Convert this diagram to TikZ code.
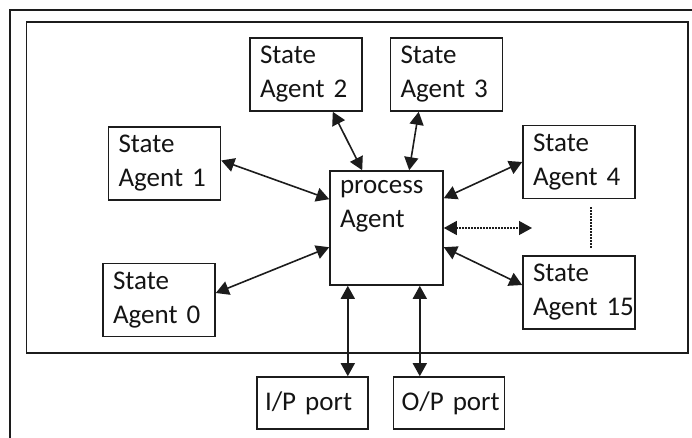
\documentclass[tikz,border=0pt]{standalone}
\usepackage{fontspec}
\setmainfont{Carlito}
\usetikzlibrary{arrows.meta}
\definecolor{linedark}{HTML}{1C1C1C}
\definecolor{textdark}{HTML}{141414}

\begin{document}
\begin{tikzpicture}[x=1pt,y=-1pt,color=linedark,text=textdark,line width=1.6pt,
    font=\fontsize{27}{34}\selectfont,
    agentbox/.style={draw,rectangle,text width=92pt,align=left,inner xsep=10pt,inner ysep=0pt,minimum height=73pt},
    portbox/.style={draw,rectangle,text width=95pt,align=left,inner xsep=8pt,inner ysep=0pt,minimum height=52pt},
    link/.style={{Triangle[length=13pt,width=14pt]}-{Triangle[length=13pt,width=14pt]}},
    dotline/.style={dash pattern=on 1.5pt off 1.5pt}]
  \useasboundingbox (0,0) rectangle (692,438);

  \draw (10,438) -- (10,10) -- (692,10);
  \draw (26.5,22.3) rectangle (688,352.7);

  \foreach \name/\x/\y/\num in {
    sa2/306/74.5/2,
    sa3/446.5/74.5/3,
    sa1/164.5/163.5/1,
    sa4/579/162/4,
    sa0/159/300/0,
    sa15/579/292.5/15} {
    \node[agentbox] (\name) at (\x,\y) {State\\Agent~\num};
  }

  \node[draw,rectangle,inner sep=0pt,minimum width=113pt,minimum height=114pt] (pa) at (386.5,228)
    {\parbox[t][96pt][t]{93pt}{process\\Agent}};

  \node[portbox] (ip) at (312.5,403) {I/P~port};
  \node[portbox] (op) at (449,403) {O/P~port};

  \draw[link] ([yshift=3pt]sa1.east) -- ([yshift=-29pt]pa.north west);
  \draw[link] ([yshift=7pt]sa0.east) -- ([yshift=-77pt]pa.north west);
  \draw[link] ([xshift=-30pt]sa2.south east) -- ([xshift=33pt]pa.north west);
  \draw[link] ([xshift=29pt]sa3.south west) -- ([xshift=80pt]pa.north west);
  \draw[link] (sa4.west) -- ([yshift=-28pt]pa.north east);
  \draw[link] ([yshift=7.5pt]sa15.west) -- ([yshift=-77pt]pa.north east);
  \draw[link] ([xshift=18.6pt]pa.south west) -- ([xshift=18.6pt]pa.south west |- ip.north);
  \draw[link] ([xshift=90.6pt]pa.south west) -- ([xshift=90.6pt]pa.south west |- op.north);

  \coordinate (dotend) at (532,228);
  \draw[link,dotline,line width=1.3pt] (pa.east) -- (dotend);

  \coordinate (vtop) at (591,207);
  \coordinate (vbot) at (591,248);
  \draw[dotline,line width=1.3pt] (vtop) -- (vbot);
\end{tikzpicture}
\end{document}
